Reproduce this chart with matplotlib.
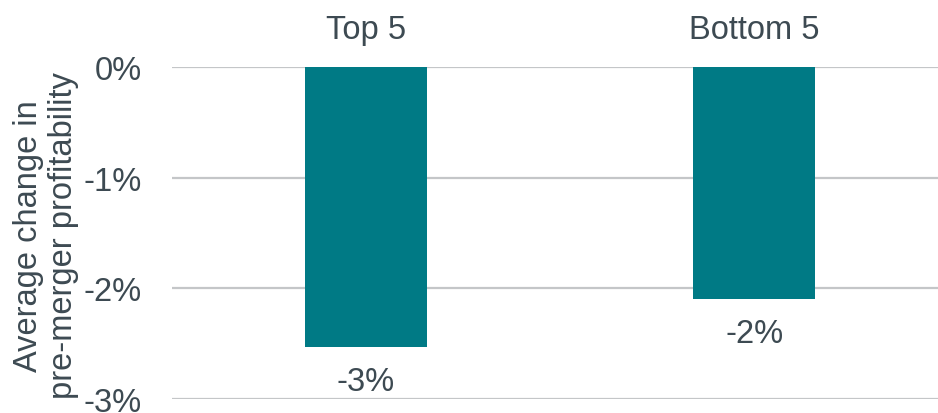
import matplotlib.pyplot as plt
from matplotlib.ticker import FuncFormatter

plt.rcParams['font.family'] = ['Liberation Sans', 'DejaVu Sans']

# Data
groups = ["Top 5", "Bottom 5"]
avg_change = [-2.53, -2.10]  # percent
y_ticks = [0, -1, -2, -3]

bar_color = "#007a85"
text_color = "#3d4a52"
grid_color = "#c4c6c8"
fs = 23.5

fig = plt.figure(figsize=(9.38, 4.14), dpi=100)
ax = fig.add_axes([172 / 938, 14 / 414, 1 - 172 / 938, (400 - 68) / 414])

x = list(range(len(groups)))
bars = ax.bar(x, avg_change, width=0.315, color=bar_color, zorder=3)

ax.set_ylim(-3, 0)
ax.set_xlim(-0.5, 1.474)
ax.set_yticks(y_ticks)
ax.yaxis.set_major_formatter(FuncFormatter(lambda v, p: f"{v:.0f}%"))
ax.grid(axis="y", color=grid_color, linewidth=1.6, zorder=0)
ax.set_axisbelow(True)

for s in ax.spines.values():
    s.set_visible(False)

ax.xaxis.tick_top()
ax.set_xticks(x)
ax.set_xticklabels(groups)
ax.tick_params(axis="x", length=0, pad=16, labelsize=fs, labelcolor=text_color)
ax.tick_params(axis="y", length=0, pad=22, labelsize=fs, labelcolor=text_color)
for lbl in ax.get_yticklabels():
    lbl.set_clip_on(False)

for b, v in zip(bars, avg_change):
    ax.annotate(f"{v:.0f}%", (b.get_x() + b.get_width() / 2, v),
                xytext=(0, -24.5), textcoords="offset points",
                ha="center", va="center", fontsize=fs, color=text_color)

fig.text(46 / 938, 1 - 236 / 414, "Average change in\npre-merger profitability",
         rotation=90, ha="center", va="center", fontsize=fs, color=text_color,
         linespacing=1.15)

fig.savefig("out.png", dpi=100)
